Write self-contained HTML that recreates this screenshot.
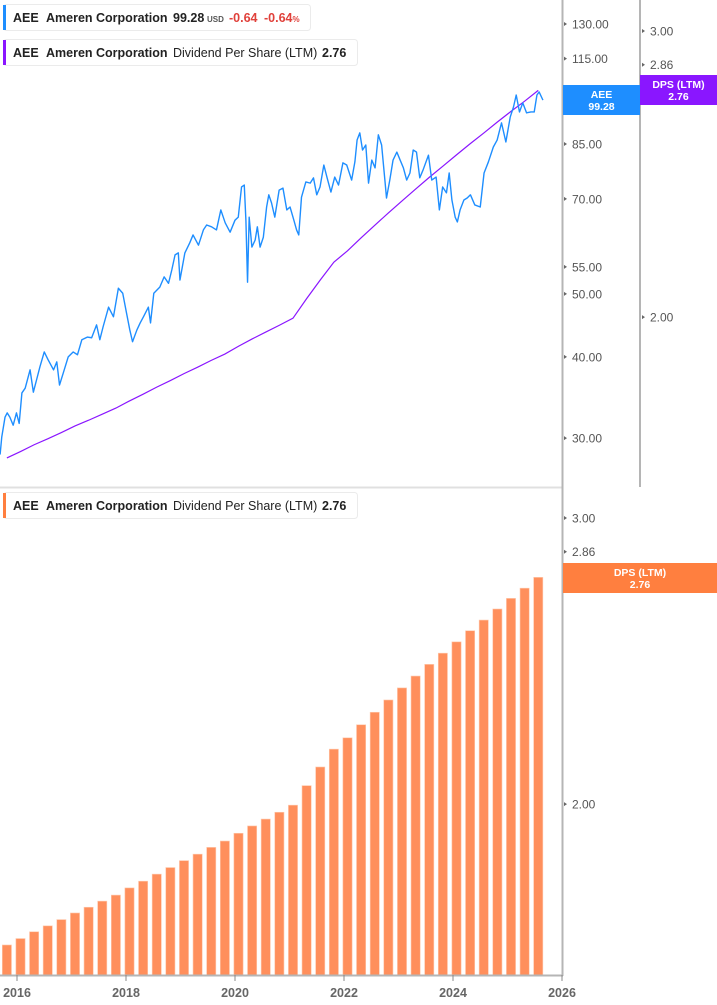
<!DOCTYPE html>
<html><head><meta charset="utf-8"><style>
html,body{margin:0;padding:0;background:#fff;}
svg{display:block;font-family:"Liberation Sans",Arial,sans-serif;}
</style></head><body>
<svg id="chart" width="717" height="1005" viewBox="0 0 717 1005">
  <g id="top-pane"></g>
  <g id="bottom-pane"></g>
  <line x1="0" y1="487.5" x2="563" y2="487.5" stroke="#e0e0e0" stroke-width="2"/>
  <line x1="562.5" y1="0" x2="562.5" y2="976" stroke="#b5b5b5" stroke-width="2"/>
  <line x1="640" y1="0" x2="640" y2="487" stroke="#b5b5b5" stroke-width="2"/>
  <line x1="0" y1="975.5" x2="563" y2="975.5" stroke="#b5b5b5" stroke-width="2"/>
  <g id="axes"></g>
  <g id="legend1">
    <rect x="3.5" y="4.5" width="307" height="26" rx="3" fill="#fff" stroke="#ebebeb"/>
    <rect x="3" y="5" width="3" height="25" fill="#1e8eff"/>
    <text x="13" y="22" font-size="12.5" font-weight="bold" fill="#222">AEE</text>
    <text x="46" y="22" font-size="12.5" font-weight="bold" fill="#222">Ameren Corporation</text>
    <text x="173" y="22" font-size="12.5" font-weight="bold" fill="#222">99.28</text>
    <text x="207" y="22" font-size="8" font-weight="bold" fill="#555">USD</text>
    <text x="229" y="22" font-size="12.5" font-weight="bold" fill="#e0413b">-0.64</text>
    <text x="264" y="22" font-size="12.5" font-weight="bold" fill="#e0413b">-0.64<tspan font-size="8">%</tspan></text>
  </g>
  <g id="legend2">
    <rect x="3.5" y="39.5" width="354" height="26" rx="3" fill="#fff" stroke="#ebebeb"/>
    <rect x="3" y="40" width="3" height="25" fill="#8a16ff"/>
    <text x="13" y="57" font-size="12.5" font-weight="bold" fill="#222">AEE</text>
    <text x="46" y="57" font-size="12.5" font-weight="bold" fill="#222">Ameren Corporation</text>
    <text x="173" y="57" font-size="12.5" fill="#222">Dividend Per Share (LTM)</text>
    <text x="322" y="57" font-size="12.5" font-weight="bold" fill="#222">2.76</text>
  </g>
  <g id="legend3">
    <rect x="3.5" y="492.5" width="354" height="26" rx="3" fill="#fff" stroke="#ebebeb"/>
    <rect x="3" y="493" width="3" height="25" fill="#ff7f3f"/>
    <text x="13" y="510" font-size="12.5" font-weight="bold" fill="#222">AEE</text>
    <text x="46" y="510" font-size="12.5" font-weight="bold" fill="#222">Ameren Corporation</text>
    <text x="173" y="510" font-size="12.5" fill="#222">Dividend Per Share (LTM)</text>
    <text x="322" y="510" font-size="12.5" font-weight="bold" fill="#222">2.76</text>
  </g>
  <g id="badges"></g>
</svg>
<script>
const priceDates = [2015.69,2015.72,2015.78,2015.82,2015.87,2015.93,2015.99,2016.04,2016.09,2016.15,2016.24,2016.30,2016.36,2016.42,2016.50,2016.57,2016.67,2016.73,2016.78,2016.85,2016.94,2017.03,2017.11,2017.19,2017.29,2017.37,2017.46,2017.52,2017.58,2017.68,2017.77,2017.86,2017.94,2018.01,2018.07,2018.12,2018.20,2018.26,2018.32,2018.41,2018.45,2018.51,2018.62,2018.70,2018.78,2018.84,2018.90,2018.96,
2018.99,2019.08,2019.17,2019.23,2019.33,2019.42,2019.48,2019.57,2019.66,2019.74,2019.82,2019.91,2020.00,2020.06,2020.12,2020.17,2020.20,2020.23,2020.26,2020.31,2020.37,2020.41,2020.46,2020.52,2020.58,2020.62,2020.67,2020.73,2020.81,2020.88,2020.95,2021.01,2021.08,2021.13,2021.17,2021.22,2021.30,2021.38,2021.44,2021.50,2021.56,2021.63,2021.69,2021.76,2021.83,2021.90,2021.98,2022.05,2022.14,2022.20,2022.24,2022.29,
2022.34,2022.40,2022.45,2022.51,2022.57,2022.63,2022.69,2022.75,2022.78,2022.84,2022.90,2022.97,2023.03,2023.09,2023.15,2023.21,2023.27,2023.33,2023.39,2023.45,2023.55,2023.61,2023.69,2023.75,2023.81,2023.88,2023.93,2023.98,2024.04,2024.08,2024.13,2024.20,2024.26,2024.32,2024.40,2024.50,2024.57,2024.65,2024.74,2024.81,2024.89,2024.97,2025.05,2025.11,2025.16,2025.22,2025.28,2025.35,2025.43,2025.49,2025.54,2025.58,2025.65];
const priceValues = [28.3,30.1,32.3,32.8,32.3,31.4,32.8,31.6,35.2,35.8,38.2,35.3,36.9,38.6,40.7,39.6,38.2,39.3,36.2,37.8,40.0,40.7,40.3,42.5,42.9,42.8,44.8,42.5,44.5,47.7,46.1,51.0,50.1,46.7,44.0,42.2,44.0,45.1,46.1,47.7,45.1,50.1,51.2,53.1,51.9,54.4,57.4,57.8,
52.5,57.8,59.9,61.6,59.4,62.7,63.8,63.4,62.7,67.3,64.3,62.2,64.9,65.6,73.0,73.5,64.9,52.1,65.6,59.0,60.5,63.4,59.0,61.1,68.0,71.0,69.0,65.6,72.2,72.7,67.3,68.0,64.9,62.7,61.6,70.4,74.3,74.0,75.4,71.0,73.0,78.9,75.4,71.7,75.6,73.5,79.5,78.9,74.8,79.8,86.2,88.4,
83.2,84.7,74.0,80.3,78.1,87.8,84.7,74.8,70.2,74.8,80.3,82.6,80.3,78.1,74.8,76.7,83.2,82.6,75.4,77.5,81.7,74.8,75.6,67.3,73.0,71.5,76.7,69.7,65.6,64.5,67.3,69.7,70.2,71.0,68.5,68.0,76.7,79.8,84.1,86.2,91.6,85.6,93.5,96.9,101.1,95.2,98.3,94.9,95.2,95.2,101.1,102.2,99.28];
const dpsStart = 2015.75;
const dpsValues = [1.638,1.653,1.669,1.683,1.698,1.714,1.728,1.743,1.758,1.776,1.793,1.811,1.828,1.846,1.863,1.881,1.898,1.919,1.939,1.958,1.977,1.997,2.053,2.108,2.162,2.197,2.238,2.278,2.318,2.358,2.398,2.438,2.477,2.517,2.557,2.596,2.637,2.677,2.716,2.758];
const priceTicks = [130,115,100,85,70,55,50,40,30];
const dpsTopTicks = [3.00,2.86,2.72,2.00];
const dpsBottomTicks = [3.00,2.86,2.72,2.00];
const yearTicks = [2016,2018,2020,2022,2024,2026];

const NS='http://www.w3.org/2000/svg';
function mk(tag,attrs,parent){const e=document.createElementNS(NS,tag);for(const k in attrs)e.setAttribute(k,attrs[k]);parent.appendChild(e);return e;}
const xOf = t => 17 + (t-2016)*54.5;
const yPrice = v => 24 + 282.4*Math.log(130/v);
const yDpsTop = v => 31 + 705.6*Math.log(3/v);
const yDpsBot = v => 518 + 705.6*Math.log(3/v);
const quarter = 0.25;

const topPane=document.getElementById('top-pane');
const botPane=document.getElementById('bottom-pane');
const axes=document.getElementById('axes');
const badges=document.getElementById('badges');

dpsValues.forEach((v,i)=>{
  const cx = xOf(dpsStart + i*quarter) + 3.5;
  const yt = yDpsBot(v);
  const r = mk('rect',{x:(cx-4.6).toFixed(2),y:yt.toFixed(2),width:9.2,height:(975-yt).toFixed(2),fill:'#ff8f5c',stroke:'#ffc9ad','stroke-width':0.6},botPane);
  
  
});
const dpsPts = dpsValues.map((v,i)=>(xOf(dpsStart+i*quarter)+3.5).toFixed(2)+','+yDpsTop(v).toFixed(2)).join(' ');
const dl = mk('polyline',{points:dpsPts,fill:'none',stroke:'#8a16ff','stroke-width':1.2},topPane);


const pPts = priceValues.map((v,i)=>xOf(priceDates[i]).toFixed(2)+','+yPrice(v).toFixed(2)).join(' ');
const pl = mk('polyline',{points:pPts,fill:'none',stroke:'#1e8eff','stroke-width':1.4,'stroke-linejoin':'round'},topPane);



function tick(x,y,label,parent,name){
  const g=mk('g',{},parent);
  
  
  mk('path',{d:`M${x} ${y-2}L${x+3} ${y}L${x} ${y+2}Z`,fill:'#666'},g);
  const t=mk('text',{x:x+8,y:y+4.5,'font-size':12,fill:'#555'},g);
  t.textContent=label;
}
priceTicks.forEach(v=>tick(564,yPrice(v),v.toFixed(2),axes,'price-tick'));
dpsTopTicks.forEach(v=>tick(642,yDpsTop(v),v.toFixed(2),axes,'dps-top-tick'));
dpsBottomTicks.forEach(v=>tick(564,yDpsBot(v),v.toFixed(2),axes,'dps-bottom-tick'));
yearTicks.forEach(y=>{
  const x=xOf(y);
  const l=mk('line',{x1:x,y1:975,x2:x,y2:981,stroke:'#888','stroke-width':1},axes);
  
  
  const t=mk('text',{x:x,y:997,'font-size':12.5,'font-weight':'bold',fill:'#666','text-anchor':'middle'},axes);
  
  
  t.textContent=y;
});
function badge(x,y,w,h,color,l1,l2,name){
  const g=mk('g',{},badges);
  
  
  mk('rect',{x:x,y:y,width:w,height:h,fill:color},g);
  const a=mk('text',{x:x+w/2,y:y+13,'font-size':10.5,'font-weight':'bold',fill:'#fff','text-anchor':'middle'},g);a.textContent=l1;
  const b=mk('text',{x:x+w/2,y:y+25,'font-size':10.5,'font-weight':'bold',fill:'#fff','text-anchor':'middle'},g);b.textContent=l2;
}
badge(563,85,77,30,'#1e8eff','AEE',priceValues[priceValues.length-1].toFixed(2),'price-badge');
badge(640,75,77,30,'#8a16ff','DPS (LTM)',dpsValues[dpsValues.length-1].toFixed(2),'dps-top-badge');
badge(563,563,154,30,'#ff7f3f','DPS (LTM)',dpsValues[dpsValues.length-1].toFixed(2),'dps-bottom-badge');
</script>
</body></html>
